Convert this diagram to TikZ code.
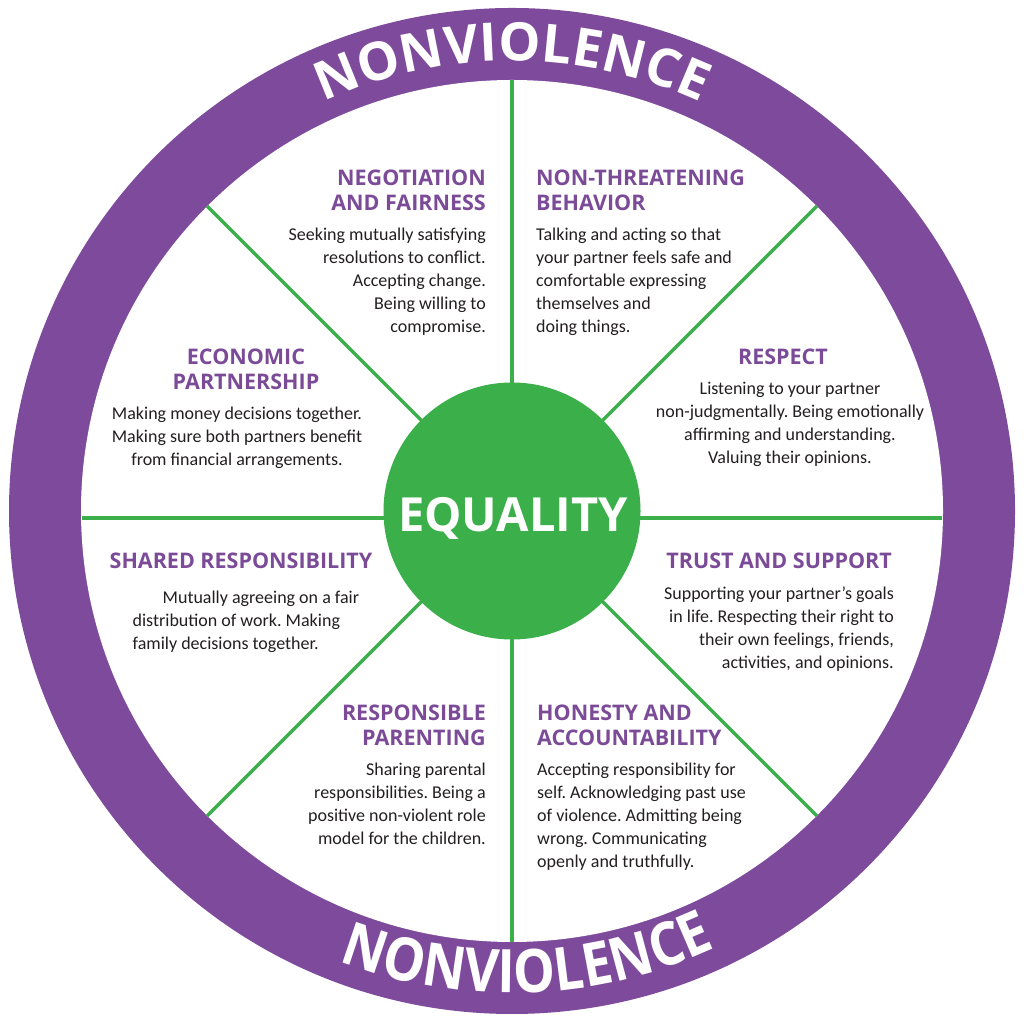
\documentclass[tikz,border=0pt]{standalone}
\usepackage{fontspec}
\setmainfont{Carlito}
\newfontfamily\headfamily{Open Sans}
\newfontfamily\stretchfamily[FakeStretch=0.88]{Open Sans}
\usepackage{xcolor}
\usetikzlibrary{positioning, decorations.text}
\definecolor{wheelpurple}{HTML}{7E4A9C}
\definecolor{headpurple}{HTML}{7B4B98}
\definecolor{hubgreen}{HTML}{3BB04A}
\definecolor{inkgray}{HTML}{231F20}
\newcommand\toparcfont{\headfamily\bfseries\fontsize{53}{60}\selectfont}
\newcommand\botarcfont{\stretchfamily\bfseries\fontsize{60}{68}\selectfont}
\frenchspacing

\begin{document}
\begin{tikzpicture}[x=1pt, y=1pt,
    head/.style={font=\headfamily\bfseries\fontsize{21.5}{25}\selectfont, text=headpurple, inner sep=0pt},
    body/.style={font=\fontsize{18}{23}\selectfont, text=inkgray, inner sep=0pt},
    spoke/.style={draw=hubgreen, line width=3.5pt}]
    \useasboundingbox (0,0) rectangle (1024,1024);
    \coordinate (c) at (512,513);
    % ring
    \fill[wheelpurple] (c) circle[radius=503];
    \fill[white] (c) circle[radius=431];
    % spokes
    \foreach \a in {45,90,135,225,270,315}
        \draw[spoke] (c) -- ([shift={(\a:431)}]c);
    \coordinate (west) at (82,506);
    \coordinate (east) at (942,506);
    \draw[spoke] (west) -- (east);
    % hub
    \node[circle, fill=hubgreen, minimum size=257pt, inner sep=0pt] (hub) at (c) {};
    \node[font=\headfamily\bfseries\fontsize{47}{50}\selectfont, text=white, anchor=base, inner sep=0pt] (eq) at (513,492) {EQUALITY};
    % ring text
    \path[decorate, decoration={text along path, text align=center, text color=white,
        text={|\toparcfont|NONVIOLENCE}}]
        ([shift={(170:450)}]c) arc[start angle=170, end angle=10, radius=450];
    \path[decorate, decoration={text along path, text align=center, text color=white,
        text={|\botarcfont|NONVIOLENCE}}]
        ([shift={(197:482)}]c) arc[start angle=197, end angle=347, radius=482];

    % sections
    \node[head, align=right, anchor=north east] (negH) at (486,854) {NEGOTIATION\\AND FAIRNESS};
    \node[body, align=right, below=17pt of negH.south east, anchor=north east] (negB)
        {Seeking mutually satisfying\\resolutions to conflict.\\Accepting change.\\Being willing to\\compromise.};

    \node[head, align=left, anchor=north west] (ntbH) at (536,854) {NON-THREATENING\\BEHAVIOR};
    \node[body, align=left, below=17pt of ntbH.south west, anchor=north west] (ntbB)
        {Talking and acting so that\\your partner feels safe and\\comfortable expressing\\themselves and\\doing things.};

    \node[head, align=center, anchor=north] (ecoH) at (246,675) {ECONOMIC\\PARTNERSHIP};
    \node[body, align=center, below=17pt of ecoH.south, xshift=-9pt] (ecoB)
        {Making money decisions together.\\Making sure both partners benefit\\from financial arrangements.};

    \node[head, anchor=north] (resH) at (783,675) {RESPECT};
    \node[body, align=center, below=17pt of resH.south, xshift=7pt] (resB)
        {Listening to your partner\\non-judgmentally. Being emotionally\\affirming and understanding.\\Valuing their opinions.};

    \node[head, anchor=north] (shrH) at (241,471) {SHARED RESPONSIBILITY};
    \node[body, align=left, below=22pt of shrH.south west, anchor=north west, xshift=23pt] (shrB)
        {\hspace*{30pt}Mutually agreeing on a fair\\distribution of work. Making\\family decisions together.};

    \node[head, anchor=north east] (trsH) at (892,471) {TRUST AND SUPPORT};
    \node[body, align=right, below=17pt of trsH.south east, anchor=north east, xshift=2pt] (trsB)
        {Supporting your partner’s goals\\in life. Respecting their right to\\their own feelings, friends,\\activities, and opinions.};

    \node[head, align=right, anchor=north east] (parH) at (486,319) {RESPONSIBLE\\PARENTING};
    \node[body, align=right, below=17pt of parH.south east, anchor=north east] (parB)
        {Sharing parental\\responsibilities. Being a\\positive non-violent role\\model for the children.};

    \node[head, align=left, anchor=north west] (honH) at (537,319) {HONESTY AND\\ACCOUNTABILITY};
    \node[body, align=left, below=17pt of honH.south west, anchor=north west] (honB)
        {Accepting responsibility for\\self. Acknowledging past use\\of violence. Admitting being\\wrong. Communicating\\openly and truthfully.};
\end{tikzpicture}
\end{document}
